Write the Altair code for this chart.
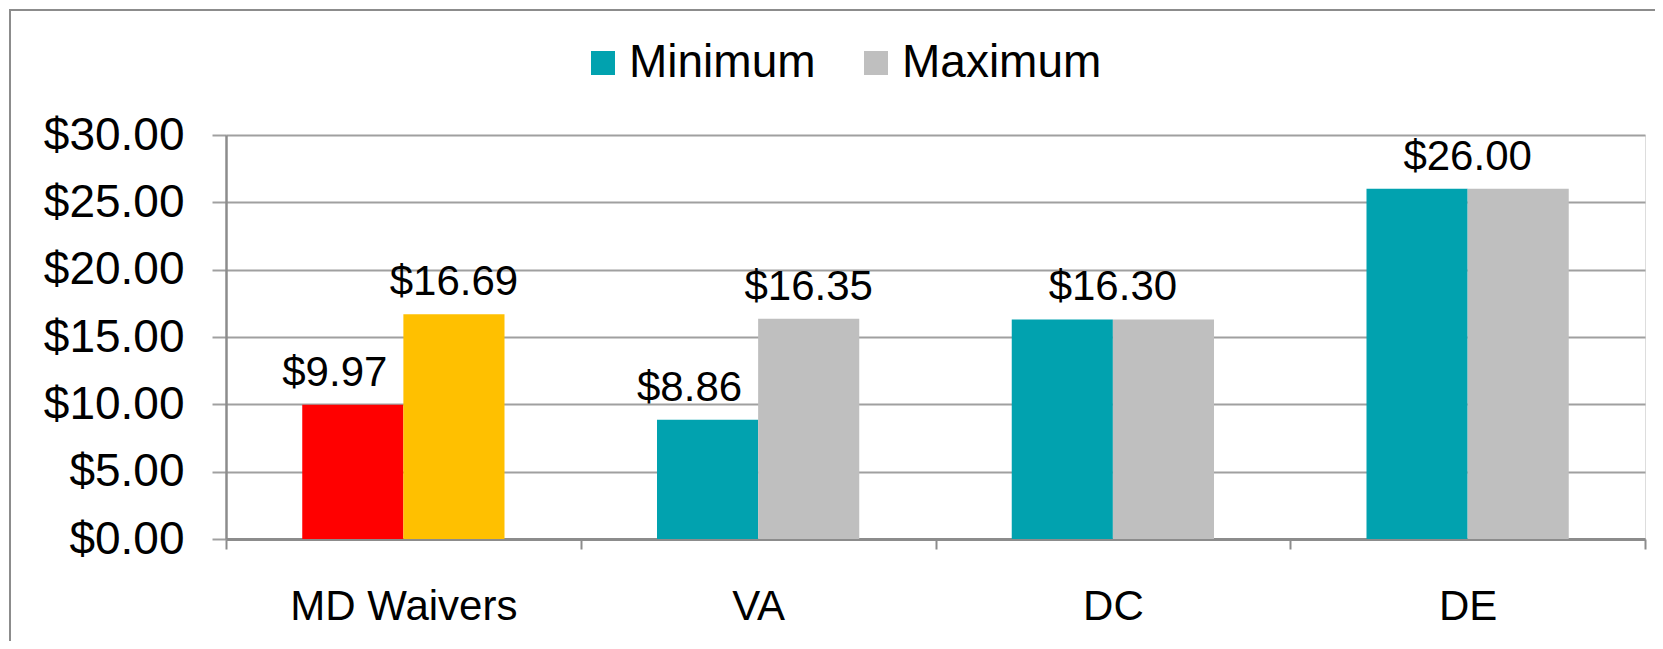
import altair as alt
import pandas as pd

categories = ["MD Waivers", "VA", "DC", "DE"]
minimum = [9.97, 8.86, 16.30, 26.00]
maximum = [16.69, 16.35, 16.30, 26.00]
series_names = ["Minimum", "Maximum"]
y_ticks = [0, 5, 10, 15, 20, 25, 30]

rows = []
for c, mn, mx in zip(categories, minimum, maximum):
    special = c == "MD Waivers"
    rows.append({"cat": c, "series": "Minimum", "value": mn,
                 "ck": "MD Min" if special else "Minimum", "same": mn == mx})
    rows.append({"cat": c, "series": "Maximum", "value": mx,
                 "ck": "MD Max" if special else "Maximum", "same": mn == mx})
df = pd.DataFrame(rows)
df["label"] = df["value"].map(lambda v: f"${v:.2f}")

W, H = 1419, 404
FONT = "Liberation Sans"

x_enc = alt.X("cat:N", sort=categories, title=None,
              scale=alt.Scale(paddingInner=0, paddingOuter=0),
              axis=alt.Axis(tickBand="extent", labelAngle=0, labelFontSize=42,
                            labelPadding=37, tickSize=10, tickColor="#8c8c8c",
                            tickWidth=2, domainColor="#8c8c8c", domainWidth=3,
                            labelColor="black", labelFont=FONT, grid=False,
                            labelLimit=0))
xo_enc = alt.XOffset("series:N", sort=series_names,
                     scale=alt.Scale(paddingInner=0, paddingOuter=0.754))
y_enc = alt.Y("value:Q", title=None,
              scale=alt.Scale(domain=[0, 30], nice=False),
              axis=alt.Axis(values=y_ticks, format="$.2f", labelFontSize=46,
                            labelFont=FONT, labelColor="black", labelPadding=28,
                            tickSize=14, tickColor="#a0a0a0", tickWidth=2,
                            gridColor="#a0a0a0", gridWidth=2,
                            domainColor="#8c8c8c", domainWidth=2.5,
                            labelLimit=0))

bars = alt.Chart(df).mark_bar().encode(
    x=x_enc,
    xOffset=xo_enc,
    y=y_enc,
    color=alt.Color("ck:N",
                    scale=alt.Scale(domain=["Minimum", "Maximum", "MD Min", "MD Max"],
                                    range=["#01a2af", "#bfbfbf", "#ff0000", "#ffc000"]),
                    legend=alt.Legend(values=["Minimum", "Maximum"], title=None,
                                      orient="none", direction="horizontal",
                                      legendX=354, legendY=-95,
                                      symbolType="square", symbolSize=576,
                                      symbolStrokeWidth=0, labelFontSize=46,
                                      labelFont=FONT, labelColor="black",
                                      labelOffset=3, columnPadding=37,
                                      labelLimit=0)),
)

txt_style = dict(fontSize=42, font=FONT, color="black", baseline="alphabetic", dy=-19)

min_labels = alt.Chart(df).transform_filter(
    "datum.same == false && datum.series == 'Minimum'"
).mark_text(dx=-18, **txt_style).encode(
    x=alt.X("cat:N", sort=categories), xOffset=xo_enc,
    y="value:Q", text="label:N")

max_labels = alt.Chart(df).transform_filter(
    "datum.same == false && datum.series == 'Maximum'"
).mark_text(**txt_style).encode(
    x=alt.X("cat:N", sort=categories), xOffset=xo_enc,
    y="value:Q", text="label:N")

same_labels = alt.Chart(df).transform_filter(
    "datum.same == true && datum.series == 'Minimum'"
).mark_text(**txt_style).encode(
    x=alt.X("cat:N", sort=categories),
    y="value:Q", text="label:N")

frame = alt.Chart(alt.Data(values=[{"k": 1}])).mark_rect(
    fillOpacity=0, stroke="#8c8c8c", strokeWidth=2
).encode(x=alt.value(-216), x2=alt.value(W + 400),
         y=alt.value(-125), y2=alt.value(H + 400))

chart = alt.layer(frame, bars, min_labels, max_labels, same_labels).properties(
    width=W, height=H,
    autosize=alt.AutoSizeParams(type="none"),
    padding={"left": 218, "top": 127, "right": 10, "bottom": 102},
).configure_view(stroke=None).configure(background="white")

chart.save("out.html", embed_options={"renderer": "svg", "actions": False})
